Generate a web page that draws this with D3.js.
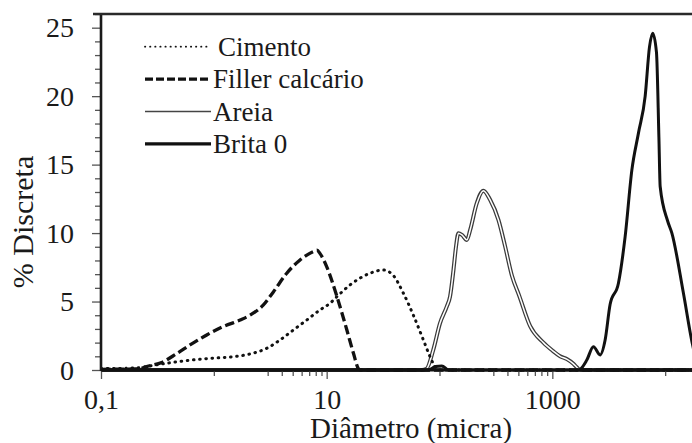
<!DOCTYPE html>
<html>
<head>
<meta charset="utf-8">
<script src="https://cdn.jsdelivr.net/npm/d3@7"></script>
<style>
  body { margin: 0; background: #fff; }
  svg { display: block; }
  svg text { font-family: "Liberation Serif", "Times New Roman", Times, "DejaVu Serif", "Noto Serif", serif !important; }
</style>
</head>
<body>
<div id="chart"></div>
<script>
// Particle size distributions: [diameter (micra), % discreta]
var cimento = [
  [0.1, 0.1], [0.2, 0.15], [0.333, 0.42], [0.537, 0.66], [0.925, 0.85], [1.49, 0.97],
  [2.09, 1.17], [2.94, 1.58], [3.86, 2.19], [5.07, 2.92], [6.66, 3.65], [8.74, 4.39],
  [10.7, 4.87], [12.3, 5.35], [16.1, 6.21], [24.3, 7.07], [31.8, 7.3], [39, 6.9],
  [47.9, 5.6], [58.7, 4.0], [72, 2.19], [82.5, 0.97], [91.4, 0.24], [98, 0], [30000, 0]
];
var filler = [
  [0.1, 0.05], [0.2, 0.08], [0.235, 0.15], [0.254, 0.25], [0.345, 0.55], [0.469, 1.2],
  [0.615, 1.83], [0.865, 2.56], [1.21, 3.17], [1.71, 3.65], [2.09, 4.0], [2.75, 4.75],
  [3.37, 5.7], [4.43, 7.07], [5.81, 8.04], [7.62, 8.65], [8.2, 8.75], [8.74, 8.5],
  [10, 7.55], [12.3, 5.4], [15.1, 2.92], [17.3, 1.2], [19.1, 0.1], [19.8, 0], [30000, 0]
];
var areia = [
  [0.1, 0], [70, 0], [77, 0.1], [88, 1.46], [101, 3.41], [116, 4.63], [124, 5.36],
  [133, 7.31], [140, 9.0], [147, 9.99], [158, 9.87], [175, 9.5], [187, 10.23],
  [214, 12.18], [245, 13.1], [281, 12.43], [333, 10.96], [382, 9.01], [438, 6.9],
  [510, 5.4], [636, 3.2], [834, 2.0], [1010, 1.4], [1172, 1.0], [1343, 0.8],
  [1538, 0.45], [1648, 0.2], [1763, 0], [30000, 0]
];
var brita = [
  [0.1, 0], [80, 0], [92, 0.25], [105, 0.3], [120, 0], [1700, 0], [1763, 0.05],
  [2021, 0.73], [2313, 1.7], [2652, 1.1], [2937, 2.19], [3253, 4.8], [3853, 6.34],
  [4418, 9.74], [5067, 14.6], [5797, 17.3], [6650, 20.0], [7263, 23.6], [7752, 24.6],
  [8374, 23.2], [8800, 17], [9030, 13.4], [10500, 10.9], [11468, 10.0], [14520, 5.6],
  [17340, 2.0], [19500, 0.3], [21000, 0], [30000, 0]
];

var seriesNames = ["Cimento", "Filler calcário", "Areia", "Brita 0"];
var xMajorTicks = [0.1, 10, 1000];
var xMinorTicks = [1, 3, 4, 5, 6, 7, 8, 9, 100, 300, 400, 500, 600, 700, 800, 900, 10000];
var yMajorTicks = [0, 5, 10, 15, 20, 25];
var yMinorTicks = [1, 2, 3, 4, 6, 7, 8, 9, 11, 12, 13, 14, 16, 17, 18, 19, 21, 22, 23, 24, 26];

var width = 692, height = 443;
var plotLeft = 101, plotTop = 14, plotBottom = 370, plotRight = 719;

var svg = d3.select("#chart").append("svg")
  .attr("width", width)
  .attr("height", height);

var x = d3.scaleLog().domain([0.1, 30000]).range([plotLeft, plotRight]);
var y = d3.scaleLinear().domain([0, 26]).range([plotBottom, plotTop]);

svg.append("clipPath").attr("id", "plot-clip")
  .append("rect")
  .attr("x", plotLeft).attr("y", 0)
  .attr("width", plotRight - plotLeft).attr("height", plotBottom + 3);

var line = d3.line()
  .x(function (d) { return x(d[0]); })
  .y(function (d) { return y(d[1]); })
  .curve(d3.curveMonotoneX);

var plot = svg.append("g").attr("clip-path", "url(#plot-clip)");

// Areia: hollow double line
plot.append("path").datum(areia)
  .attr("d", line).attr("fill", "none")
  .attr("stroke", "#3a3a3a").attr("stroke-width", 4);
plot.append("path").datum(areia)
  .attr("d", line).attr("fill", "none")
  .attr("stroke", "#fff").attr("stroke-width", 1.5);

// Cimento: dotted
plot.append("path").datum(cimento)
  .attr("d", line).attr("fill", "none")
  .attr("stroke", "#111").attr("stroke-width", 3)
  .attr("stroke-linecap", "round")
  .attr("stroke-dasharray", "0.6,5.6");

// Filler: dashed
plot.append("path").datum(filler)
  .attr("d", line).attr("fill", "none")
  .attr("stroke", "#111").attr("stroke-width", 3.3)
  .attr("stroke-dasharray", "9.5,4");

// Brita 0: thick solid
plot.append("path").datum(brita)
  .attr("d", line).attr("fill", "none")
  .attr("stroke", "#111").attr("stroke-width", 3)
  .attr("stroke-linejoin", "round");

// Axes
var xAxisMajor = svg.append("g")
  .attr("transform", "translate(0," + plotBottom + ")")
  .call(d3.axisBottom(x).tickValues(xMajorTicks).tickSize(9).tickPadding(10)
    .tickFormat(function (d) { return d === 0.1 ? "0,1" : String(d); }));
var xAxisMinor = svg.append("g")
  .attr("transform", "translate(0," + plotBottom + ")")
  .call(d3.axisBottom(x).tickValues(xMinorTicks).tickSize(6).tickFormat(""));

var yAxisMajor = svg.append("g")
  .attr("transform", "translate(" + plotLeft + ",0)")
  .call(d3.axisLeft(y).tickValues(yMajorTicks).tickSize(9).tickPadding(18));
var yAxisMinor = svg.append("g")
  .attr("transform", "translate(" + plotLeft + ",0)")
  .call(d3.axisLeft(y).tickValues(yMinorTicks).tickSize(6).tickFormat(""));

svg.selectAll(".domain").remove();
svg.selectAll(".tick line").attr("stroke", "#555").attr("stroke-width", 1.3);
svg.selectAll(".tick text")
  .attr("font-size", 28)
  .attr("fill", "#1a1a1a");
yAxisMajor.selectAll(".tick text").attr("dy", "0.33em");

// frame lines
svg.append("line")
  .attr("x1", plotLeft).attr("x2", plotLeft).attr("y1", plotTop - 1).attr("y2", plotBottom + 1)
  .attr("stroke", "#1a1a1a").attr("stroke-width", 2.6);
svg.append("line")
  .attr("x1", plotLeft - 8).attr("x2", width).attr("y1", plotTop).attr("y2", plotTop)
  .attr("stroke", "#2a2a2a").attr("stroke-width", 2.4);
svg.append("line")
  .attr("x1", plotLeft).attr("x2", width).attr("y1", plotBottom).attr("y2", plotBottom)
  .attr("stroke", "#111").attr("stroke-width", 3.2);

// Axis titles
svg.append("text")
  .attr("x", 411).attr("y", 438)
  .attr("text-anchor", "middle")
  .attr("font-size", 29).attr("fill", "#1a1a1a")
  .text("Diâmetro (micra)");
svg.append("text")
  .attr("transform", "translate(33,222) rotate(-90)")
  .attr("text-anchor", "middle")
  .attr("font-size", 30).attr("fill", "#1a1a1a")
  .text("% Discreta");

// Legend
var legendStyles = [
  { stroke: "#111", width: 1.8, dash: "0.3,4.8", cap: "round" },
  { stroke: "#111", width: 3.2, dash: "8,3", cap: "butt" },
  { stroke: "#444", width: 1.5, dash: null, cap: "butt" },
  { stroke: "#111", width: 3.2, dash: null, cap: "butt" }
];
var legend = svg.append("g")
  .selectAll("g")
  .data(seriesNames)
  .enter().append("g")
  .attr("transform", function (d, i) { return "translate(0," + (46.7 + i * 32.4) + ")"; });

legend.append("line")
  .attr("x1", 145).attr("x2", 211)
  .attr("stroke", function (d, i) { return legendStyles[i].stroke; })
  .attr("stroke-width", function (d, i) { return legendStyles[i].width; })
  .attr("stroke-dasharray", function (d, i) { return legendStyles[i].dash; })
  .attr("stroke-linecap", function (d, i) { return legendStyles[i].cap; });

legend.append("text")
  .attr("x", function (d, i) { return i === 0 ? 218 : 213; })
  .attr("y", 9)
  .attr("font-size", 27).attr("fill", "#1a1a1a")
  .text(function (d) { return d; });
</script>
</body>
</html>
